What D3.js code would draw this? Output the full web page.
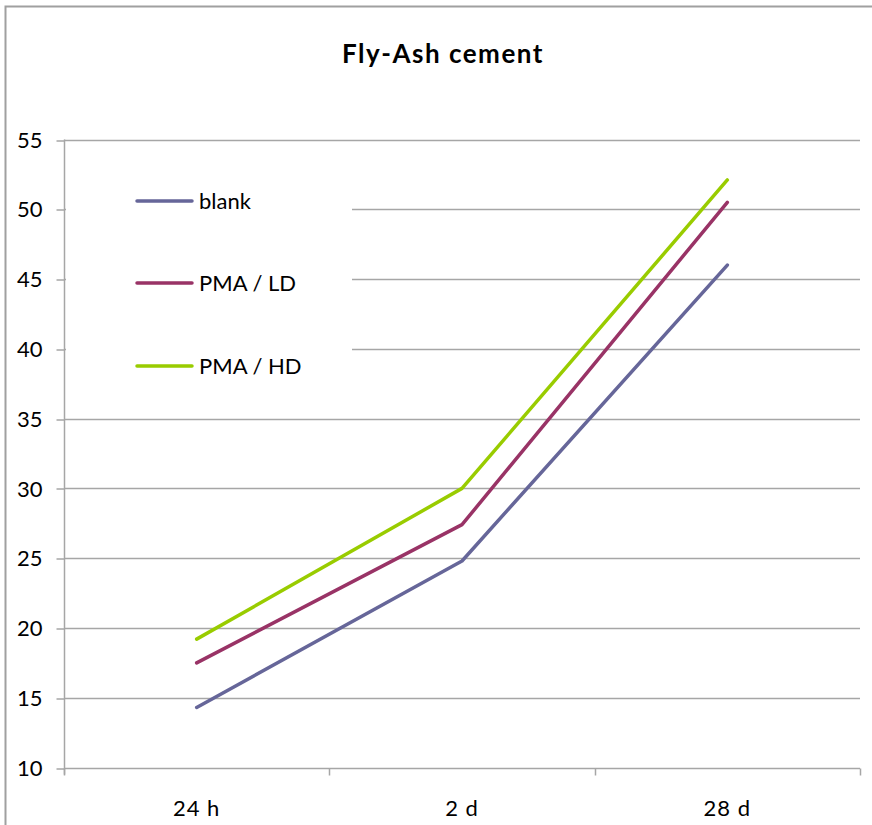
<!DOCTYPE html>
<html><head><meta charset="utf-8">
<script src="https://cdn.jsdelivr.net/npm/d3@7/dist/d3.min.js"></script>
<style>body{margin:0;background:#fff}svg{display:block}text{font-family:Lato,"Open Sans",sans-serif}</style>
</head><body>
<svg id="c" width="872" height="825"></svg>
<script>
const categories = ["24 h", "2 d", "28 d"];
const seriesNames = ["blank", "PMA / LD", "PMA / HD"];
const blank = [14.3, 24.8, 46.0];
const pmaLD = [17.5, 27.4, 50.5];
const pmaHD = [19.2, 30.0, 52.1];
const yTicks = [10, 15, 20, 25, 30, 35, 40, 45, 50, 55];
const colors = ["#666699", "#993366", "#99CC00"];
const title = "Fly-Ash cement";

const series = [blank, pmaLD, pmaHD];
const svg = d3.select("#c");
const m = {l:64, r:860, t:139.5, b:767.5};

// outer border
svg.append("rect").attr("x",5.5).attr("y",6.5).attr("width",880).attr("height",830)
  .attr("fill","none").attr("stroke","#a0a0a0").attr("stroke-width",2);

const x = d3.scaleBand().domain(categories).range([m.l, m.r]);
const y = d3.scaleLinear().domain([10,55]).range([m.b, m.t]);

// gridlines
svg.append("g").selectAll("line").data(yTicks.filter(v=>v>10)).join("line")
  .attr("x1", m.l).attr("x2", m.r)
  .attr("y1", d=>Math.round(y(d))+0.5).attr("y2", d=>Math.round(y(d))+0.5)
  .attr("stroke","#a6a6a6").attr("stroke-width",1.5);

// y axis
const ya = svg.append("g").attr("transform",`translate(${m.l+0.5},0)`)
  .call(d3.axisLeft(y).tickValues(yTicks).tickSize(8).tickPadding(14).tickFormat(d3.format("d")));
ya.select(".domain").attr("stroke","#a6a6a6").attr("stroke-width",1.5).attr("d",`M0,${m.t}V${m.b+7}`);
ya.selectAll(".tick line").attr("stroke","#a6a6a6").attr("stroke-width",1.5)
  .attr("transform",d=>`translate(0,${Math.round(y(d))+0.5-y(d)})`);
ya.selectAll(".tick text").attr("font-size",22).attr("font-family","Lato,'Open Sans',sans-serif").attr("fill","#000")
  .attr("dy","0.35em");

// x axis
const xa = svg.append("g").attr("transform",`translate(0,${Math.round(m.b)+0.5})`);
xa.append("line").attr("x1",m.l).attr("x2",m.r).attr("stroke","#a6a6a6").attr("stroke-width",1.5);
const edges = categories.map(c=>x(c)).concat([m.r]);
xa.selectAll("line.t").data(edges).join("line").attr("class","t")
  .attr("x1",d=>Math.round(d)+0.5).attr("x2",d=>Math.round(d)+0.5).attr("y1",0).attr("y2",7)
  .attr("stroke","#a6a6a6").attr("stroke-width",1.5);
xa.selectAll("text").data(categories).join("text")
  .attr("x",d=>x(d)+x.bandwidth()/2).attr("y",47).attr("text-anchor","middle")
  .attr("font-size",22).attr("letter-spacing","1px").attr("fill","#000").text(d=>d);

// legend background
svg.append("rect").attr("x",m.l+2).attr("y",160).attr("width",352-m.l-2).attr("height",230).attr("fill","#fff");

// lines
const line = d3.line().x((d,i)=>x(categories[i])+x.bandwidth()/2).y(d=>y(d));
svg.append("g").selectAll("path").data(series).join("path")
  .attr("d",line).attr("fill","none").attr("stroke",(d,i)=>colors[i])
  .attr("stroke-width",3.5).attr("stroke-linecap","round").attr("stroke-linejoin","round");

// legend
const lg = svg.append("g");
const ly = [201, 283, 366];
seriesNames.forEach((n,i)=>{
  lg.append("line").attr("x1",137).attr("x2",192).attr("y1",ly[i]).attr("y2",ly[i])
    .attr("stroke",colors[i]).attr("stroke-width",3.5).attr("stroke-linecap","round");
  lg.append("text").attr("x",199).attr("y",ly[i]).attr("dy","0.35em")
    .attr("font-size",22).attr("fill","#000").text(n);
});

// title
svg.append("text").attr("x",443).attr("y",54).attr("dy","0.35em").attr("text-anchor","middle")
  .attr("font-size",26).attr("letter-spacing","1.5px").attr("font-weight","bold").attr("fill","#000").text(title);
</script>
</body></html>
